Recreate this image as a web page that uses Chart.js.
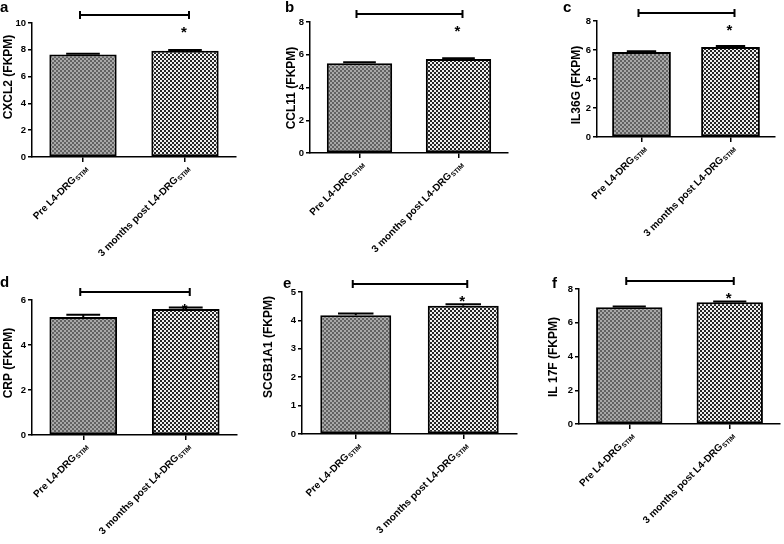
<!DOCTYPE html>
<html>
<head>
<meta charset="utf-8">
<script src="https://cdn.jsdelivr.net/npm/chart.js@4.4.1/dist/chart.umd.min.js"></script>
<style>
  body { margin: 0; background: #fff; }
  #wrap { position: relative; width: 784px; height: 544px; overflow: hidden; }
  canvas { position: absolute; }
</style>
</head>
<body>
<div id="wrap"></div>
<script>
const categories = ['Pre L4-DRG', '3 months post L4-DRG'];
const categorySub = ['STIM', 'STIM'];
const letters = ['a', 'b', 'c', 'd', 'e', 'f'];
const yTitles = ['CXCL2 (FKPM)', 'CCL11 (FKPM)', 'IL36G (FKPM)', 'CRP (FKPM)', 'SCGB1A1 (FKPM)', 'IL 17F (FKPM)'];
const yMax = [10, 8, 8, 6, 5, 8];
const yStep = [2, 2, 2, 2, 1, 2];

const cxcl2 = [7.65, 7.93], cxcl2Err = [0.05, 0.06];
const ccl11 = [5.48, 5.74], ccl11Err = [0.06, 0.04];
const il36g = [5.86, 6.20], il36gErr = [0.05, 0.08];
const crp = [5.25, 5.60], crpErr = [0.10, 0.07];
const scgb1a1 = [4.18, 4.52], scgb1a1Err = [0.06, 0.05];
const il17f = [6.92, 7.22], il17fErr = [0.04, 0.04];

const means = [cxcl2, ccl11, il36g, crp, scgb1a1, il17f];
const errs = [cxcl2Err, ccl11Err, il36gErr, crpErr, scgb1a1Err, il17fErr];

// canvas box, plot area, y title centre, panel letter (page pixels)
const boxes = [
  { x: 0,   y: 0,   w: 260, h: 270, l: 32,  t: 23,  r: 236, b: 157, tx: 9,   ty: 77,  lx: 0,   ly: 12 },
  { x: 260, y: 0,   w: 262, h: 270, l: 310, t: 22,  r: 508, b: 153, tx: 292, ty: 88,  lx: 285, ly: 12 },
  { x: 522, y: 0,   w: 262, h: 270, l: 597, t: 21,  r: 775, b: 137, tx: 577, ty: 85,  lx: 563, ly: 12 },
  { x: 0,   y: 270, w: 260, h: 274, l: 32,  t: 300, r: 237, b: 435, tx: 9,   ty: 363, lx: 0,   ly: 287 },
  { x: 260, y: 270, w: 262, h: 274, l: 302, t: 292, r: 517, b: 434, tx: 269, ty: 347, lx: 283, ly: 288 },
  { x: 522, y: 270, w: 262, h: 274, l: 579, t: 289, r: 780, b: 424, tx: 554, ty: 357, lx: 552, ly: 288 }
];

const FONT = '"Liberation Sans", Arial, sans-serif';

function makePattern(c1, c2) {
  const t = document.createElement('canvas');
  t.width = 4; t.height = 4;
  const g = t.getContext('2d');
  g.fillStyle = c1; g.fillRect(0, 0, 4, 4);
  g.fillStyle = c2; g.fillRect(0, 0, 2, 2); g.fillRect(2, 2, 2, 2);
  return g.createPattern(t, 'repeat');
}
const patPre = makePattern('#626262', '#a8a8a8');
const patPost = makePattern('#262626', '#f0f0f0');

const extras = {
  id: 'extras',
  afterDatasetsDraw(chart) {
    const p = chart.options.plugins.extras.panel;
    const ctx = chart.ctx;
    const ys = chart.scales.y;
    const meta = chart.getDatasetMeta(0);
    ctx.save();
    ctx.strokeStyle = '#000';
    ctx.lineWidth = 2;
    meta.data.forEach((el, i) => {
      const top = ys.getPixelForValue(means[p][i] + errs[p][i]);
      const hw = el.width / 4;
      ctx.beginPath();
      ctx.moveTo(el.x, el.y);
      ctx.lineTo(el.x, top);
      ctx.moveTo(el.x - hw, top);
      ctx.lineTo(el.x + hw, top);
      ctx.stroke();
    });
    ctx.restore();
  },
  afterDraw(chart) {
    const p = chart.options.plugins.extras.panel;
    const bx = boxes[p];
    const ctx = chart.ctx;
    const area = chart.chartArea;
    const xs = chart.scales.x;
    const c0 = xs.getPixelForValue(0), c1 = xs.getPixelForValue(1);
    ctx.save();
    ctx.fillStyle = '#000';
    ctx.strokeStyle = '#000';

    // panel letter
    ctx.font = 'bold 15px ' + FONT;
    ctx.textAlign = 'left';
    ctx.textBaseline = 'alphabetic';
    ctx.fillText(letters[p], bx.lx - bx.x, bx.ly - bx.y);

    // y title
    ctx.save();
    ctx.translate(bx.tx - bx.x, bx.ty - bx.y);
    ctx.rotate(-Math.PI / 2);
    ctx.font = 'bold 12px ' + FONT;
    ctx.textAlign = 'center';
    ctx.textBaseline = 'middle';
    ctx.fillText(yTitles[p], 0, 0);
    ctx.restore();

    // x labels at 45 degrees, with subscript
    categories.forEach((lab, i) => {
      const cx = xs.getPixelForValue(i);
      ctx.save();
      ctx.translate(cx + 3, area.bottom + 10);
      ctx.rotate(-Math.PI / 4);
      ctx.textAlign = 'right';
      ctx.textBaseline = 'middle';
      ctx.font = 'bold 6.5px ' + FONT;
      const sw = ctx.measureText(categorySub[i]).width;
      ctx.fillText(categorySub[i], 0, 2.5);
      ctx.font = 'bold 10px ' + FONT;
      ctx.fillText(lab, -sw - 0.5, 0);
      ctx.restore();
    });

    // significance bracket
    const by = area.top - 8;
    ctx.lineWidth = 2;
    ctx.beginPath();
    ctx.moveTo(c0 - 3, by); ctx.lineTo(c1 + 4, by);
    ctx.moveTo(c0 - 3, by - 4); ctx.lineTo(c0 - 3, by + 4);
    ctx.moveTo(c1 + 4, by - 4); ctx.lineTo(c1 + 4, by + 4);
    ctx.stroke();

    // star
    ctx.font = 'bold 15px ' + FONT;
    ctx.textAlign = 'center';
    ctx.textBaseline = 'alphabetic';
    ctx.fillText('*', c1 - 1, area.top + 14);
    ctx.restore();
  }
};

const wrap = document.getElementById('wrap');
boxes.forEach((bx, p) => {
  const cv = document.createElement('canvas');
  cv.width = bx.w; cv.height = bx.h;
  cv.style.left = bx.x + 'px';
  cv.style.top = bx.y + 'px';
  wrap.appendChild(cv);
  new Chart(cv, {
    type: 'bar',
    data: {
      labels: categories,
      datasets: [{
        data: means[p],
        backgroundColor: [patPre, patPost],
        borderColor: '#000',
        borderWidth: 2,
        borderSkipped: false,
        barPercentage: 0.66,
        categoryPercentage: 1
      }]
    },
    options: {
      responsive: false,
      animation: false,
      devicePixelRatio: 1,
      layout: { padding: { left: 0, top: bx.t - bx.y, right: bx.x + bx.w - bx.r, bottom: 0 } },
      plugins: {
        legend: { display: false },
        tooltip: { enabled: false },
        extras: { panel: p }
      },
      scales: {
        x: {
          grid: { offset: false, drawOnChartArea: false, color: '#000', lineWidth: 1.5, tickLength: 5 },
          border: { color: '#000', width: 1.5 },
          ticks: { display: false },
          afterFit(s) { s.height = bx.y + bx.h - bx.b; }
        },
        y: {
          min: 0,
          max: yMax[p],
          ticks: { stepSize: yStep[p], color: '#000', padding: 2, font: { family: FONT, size: 9.5, weight: 'bold' } },
          grid: { drawOnChartArea: false, color: '#000', lineWidth: 1.5, tickLength: 4 },
          border: { color: '#000', width: 1.5 },
          afterFit(s) { s.width = bx.l - bx.x; }
        }
      }
    },
    plugins: [extras]
  });
});
</script>
</body>
</html>
